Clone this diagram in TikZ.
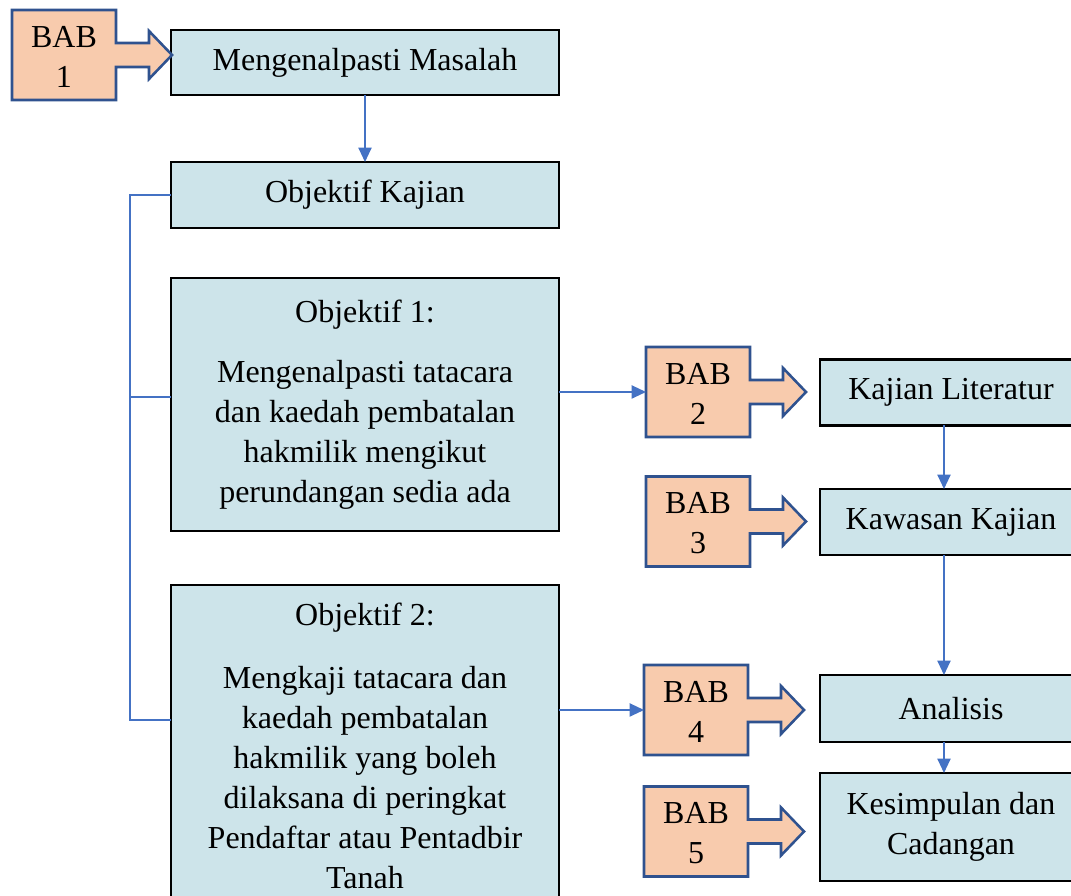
\documentclass[tikz,border=0pt]{standalone}
\usepackage{fontspec}
\setmainfont{Liberation Serif}
\usetikzlibrary{calc,arrows.meta}

\definecolor{boxblue}{RGB}{205,228,234}
\definecolor{babfill}{RGB}{248,203,173}
\definecolor{babedge}{RGB}{47,82,143}
\definecolor{linkblue}{RGB}{68,114,196}

% box with a fat arrow on its right side
\newcommand{\babarrow}[1]{%
  \draw[babline] (#1.north west) -- (#1.north east) -- ($(#1.east)+(0,-12)$) -- ++(33,0) -- ++(0,-12)
    -- ($(#1.east)+(56,0)$) -- ($(#1.east)+(33,24)$) -- ++(0,-12) -- ($(#1.east)+(0,12)$)
    -- (#1.south east) -- (#1.south west) -- cycle;}

\begin{document}
\begin{tikzpicture}[x=0.35pt,y=-0.35pt,>={Triangle[length=5pt,width=4.6pt]},
  every node/.style={font=\fontsize{11.2pt}{14pt}\selectfont,align=center,inner sep=0pt,outer sep=0pt},
  stepbox/.style={draw=black,line width=1pt,fill=boxblue,minimum width={#1*0.35pt}},
  stepbox/.default=388,
  bab/.style={fill=babfill,minimum width={104*0.35pt},minimum height={90*0.35pt}},
  babline/.style={draw=babedge,fill=babfill,line width=0.9pt,line join=miter},
  link/.style={draw=linkblue,line width=0.5pt}]
  \useasboundingbox (0,0) rectangle (1071,896);
  \clip (0,0) rectangle (1071,896);
  % left column
  \node[stepbox,minimum height={65*0.35pt}] (masalah) at (365,62.5) {Mengenalpasti Masalah};
  \node[stepbox,minimum height={66*0.35pt}] (objektif) at (365,195) {Objektif Kajian};
  \node[stepbox,minimum height={253*0.35pt}] (obj1) at (365,404.5) {Objektif 1:\\[7pt]
    Mengenalpasti tatacara\\ dan kaedah pembatalan\\ hakmilik mengikut\\ perundangan sedia ada};
  \node[stepbox,minimum height={322*0.35pt}] (obj2) at (365,746) {Objektif 2:\\[8pt]
    Mengkaji tatacara dan\\ kaedah pembatalan\\ hakmilik yang boleh\\ dilaksana di peringkat\\
    Pendaftar atau Pentadbir\\ Tanah};
  % right column
  \node[stepbox=262,minimum height={66*0.35pt}] (literatur) at (951,392.5) {Kajian Literatur};
  \node[stepbox=262,minimum height={66*0.35pt}] (kawasan) at (951,522) {Kawasan Kajian};
  \node[stepbox=262,minimum height={67*0.35pt}] (analisis) at (951,708.5) {Analisis};
  \node[stepbox=262,minimum height={108*0.35pt}] (kesimpulan) at (951,827) {Kesimpulan dan\\ Cadangan};
  % BAB markers
  \node[bab] (bab1) at (64,55) {};
  \node[bab] (bab2) at (698,392) {};
  \node[bab] (bab3) at (698,521.5) {};
  \node[bab] (bab4) at (696,710) {};
  \node[bab] (bab5) at (696,831.5) {};
  \foreach \b in {bab1,bab2,bab3,bab4,bab5} \babarrow{\b};
  \foreach \b/\n in {bab1/1,bab2/2,bab3/3,bab4/4,bab5/5}
    \node at ($(\b)+(0,2)$) {BAB\\ \n};
  % connectors
  \draw[link,->] (masalah) -- (objektif);
  \draw[link] (objektif.west) -- ++(-41,0) coordinate (spine) -- (spine |- 0,720) -- (obj2.west |- 0,720);
  \draw[link] (spine |- 0,397) -- (obj1.west |- 0,397);
  \draw[link,->] (obj1.east |- bab2.west) -- (bab2.west);
  \draw[link,->] (obj2.east |- bab4.west) -- (bab4.west);
  \draw[link,->] ($(literatur.south)+(-7,0)$) -- ($(kawasan.north)+(-7,0)$);
  \draw[link,->] ($(kawasan.south)+(-7,0)$) -- ($(analisis.north)+(-7,0)$);
  \draw[link,->] ($(analisis.south)+(-7,0)$) -- ($(kesimpulan.north)+(-7,0)$);
\end{tikzpicture}
\end{document}
